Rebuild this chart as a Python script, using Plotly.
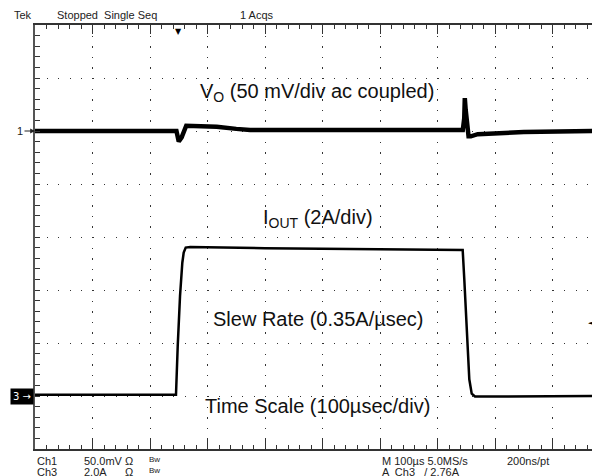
import plotly.graph_objects as go

# ---- data (read from the scope capture) ----
# Ch1: output voltage, ac coupled, time in microseconds, value in mV
vo_time_us = [0, 150, 246, 250, 255, 263, 280, 316, 350, 374, 450, 550, 650, 744,
              746.5, 747.5, 749, 751, 753, 754, 758, 770, 850, 983]
vo_mv = [0, 0, 0, -10, -6, 5, 5, 4, 2, 1, 1, 1, 1, 1,
         12, 31, 20, 12, 6, -5, -5, -3, -1, 0]

# Ch3: output current, time in microseconds, value in A
iout_time_us = [0, 245.2, 248.2, 252.2, 256.2, 258.6, 262.1, 270, 400, 600,
                743.8, 746.6, 750.8, 755.3, 759.5, 765.2, 983]
iout_a = [0.05, 0.05, 1.89, 3.77, 5.03, 5.41, 5.60, 5.62, 5.58, 5.54,
          5.51, 4.40, 2.52, 0.63, 0.09, -0.02, 0.0]

trigger_time_us = 250
trigger_level_a = 2.76

# page body has an 8 px default margin; size the figure so it fills the window
OFF = 8
WIN_W, WIN_H = 600, 476
W, H = WIN_W - OFF, WIN_H - OFF
L, T, B = 35, 25, 449   # plot area edges in window pixels (right edge = window edge)


def px_x(px):
    return (px - L) / (WIN_W - L)


def px_y(py):
    return (B - py) / (B - T)


fig = go.Figure()
fig.add_trace(go.Scatter(x=vo_time_us, y=vo_mv, mode="lines",
                         line=dict(color="#000000", width=4.5), yaxis="y",
                         showlegend=False, hoverinfo="skip"))
fig.add_trace(go.Scatter(x=iout_time_us, y=iout_a, mode="lines",
                         line=dict(color="#000000", width=2.5), yaxis="y2",
                         showlegend=False, hoverinfo="skip"))

FONT = "Liberation Sans, Arial, sans-serif"
ann = []

# channel labels inside the screen
big = dict(family=FONT, size=20, color="#111111")
ann.append(dict(text="V<sub>O</sub> (50 mV/div ac coupled)", x=px_x(317), y=px_y(92),
                font=big))
ann.append(dict(text="I<sub>OUT</sub> (2A/div)", x=px_x(317.5), y=px_y(218), font=big))
ann.append(dict(text="Slew Rate (0.35A/µsec)", x=px_x(318), y=px_y(319), font=big))
ann.append(dict(text="Time Scale (100µsec/div)", x=px_x(317.5), y=px_y(406), font=big))

# scope header
small = dict(family=FONT, size=11, color="#222222")
for txt, x0 in [("Tek", 12), ("Stopped  Single Seq", 55), ("1 Acqs", 238)]:
    ann.append(dict(text=txt, x=px_x(x0), y=px_y(15), xanchor="left", font=small))

# scope footer
for txt, x0, y0 in [("Ch1", 35, 461), ("50.0mV", 82, 461), ("Ω", 123, 461),
                    ("Ch3", 35, 472), ("2.0A", 82, 472), ("Ω", 123, 472),
                    ("M 100µs 5.0MS/s", 380, 461), ("200ns/pt", 505, 461),
                    ("A  Ch3   / 2.76A", 380, 472)]:
    ann.append(dict(text=txt, x=px_x(x0), y=px_y(y0), xanchor="left", font=small))
for y0 in [459, 470]:
    ann.append(dict(text="Bw", x=px_x(147), y=px_y(y0), xanchor="left",
                    font=dict(family=FONT, size=8, color="#222222")))

for a in ann:
    a.setdefault("xref", "paper")
    a.setdefault("yref", "paper")
    a.setdefault("showarrow", False)
    a.setdefault("xanchor", "center")
    a.setdefault("yanchor", "middle")

# channel ground markers
ann.append(dict(text="1", xref="paper", yref="y", x=0, y=0, ax=-15, ay=0,
                showarrow=True, arrowhead=2, arrowsize=0.8, arrowwidth=1.2,
                arrowcolor="#222222", font=dict(family=FONT, size=11, color="#222222")))
ann.append(dict(text="3 →", xref="paper", yref="y2", x=px_x(34), y=0,
                xanchor="right", showarrow=False, bgcolor="#000000", borderpad=2,
                font=dict(family="DejaVu Sans", size=10, color="#ffffff")))
# trigger position and level markers
ann.append(dict(text="▼", xref="x", yref="paper", x=trigger_time_us, y=1,
                yanchor="top", showarrow=False,
                font=dict(family="DejaVu Sans", size=8, color="#000000")))
ann.append(dict(text="◄", xref="paper", yref="y2", x=px_x(596), y=trigger_level_a,
                showarrow=False, font=dict(family="DejaVu Sans", size=7, color="#000000")))

fig.update_layout(
    width=W, height=H,
    margin=dict(l=L - OFF, r=0, t=T - OFF, b=WIN_H - B, pad=0),
    paper_bgcolor="white", plot_bgcolor="white",
    showlegend=False,
    annotations=ann,
    xaxis=dict(range=[0, (WIN_W - L) / 57.5 * 100], showticklabels=False,
               showline=True, linecolor="#333333", linewidth=1.5, mirror="ticks",
               ticks="inside", ticklen=9, tickcolor="#333333", tickwidth=1.2,
               tick0=0, dtick=100, zeroline=False,
               showgrid=True, gridcolor="#333333", gridwidth=1.3,
               griddash="1.3px,9.3px",
               minor=dict(ticks="inside", ticklen=4, tickcolor="#333333",
                          tickwidth=1, dtick=20, showgrid=False)),
    yaxis=dict(range=[-300, 100], showticklabels=False,
               showline=True, linecolor="#555555", linewidth=2,
               ticks="inside", ticklen=5, tickcolor="#333333", tickwidth=1,
               tick0=0, dtick=50, zeroline=False,
               showgrid=True, gridcolor="#333333", gridwidth=1.3,
               griddash="1.3px,10.2px",
               minor=dict(ticks="inside", ticklen=5, tickcolor="#333333",
                          tickwidth=1, dtick=10, showgrid=False)),
    yaxis2=dict(range=[-2, 14], overlaying="y", visible=False, zeroline=False,
                showgrid=False),
)

fig.write_html("out.html")
